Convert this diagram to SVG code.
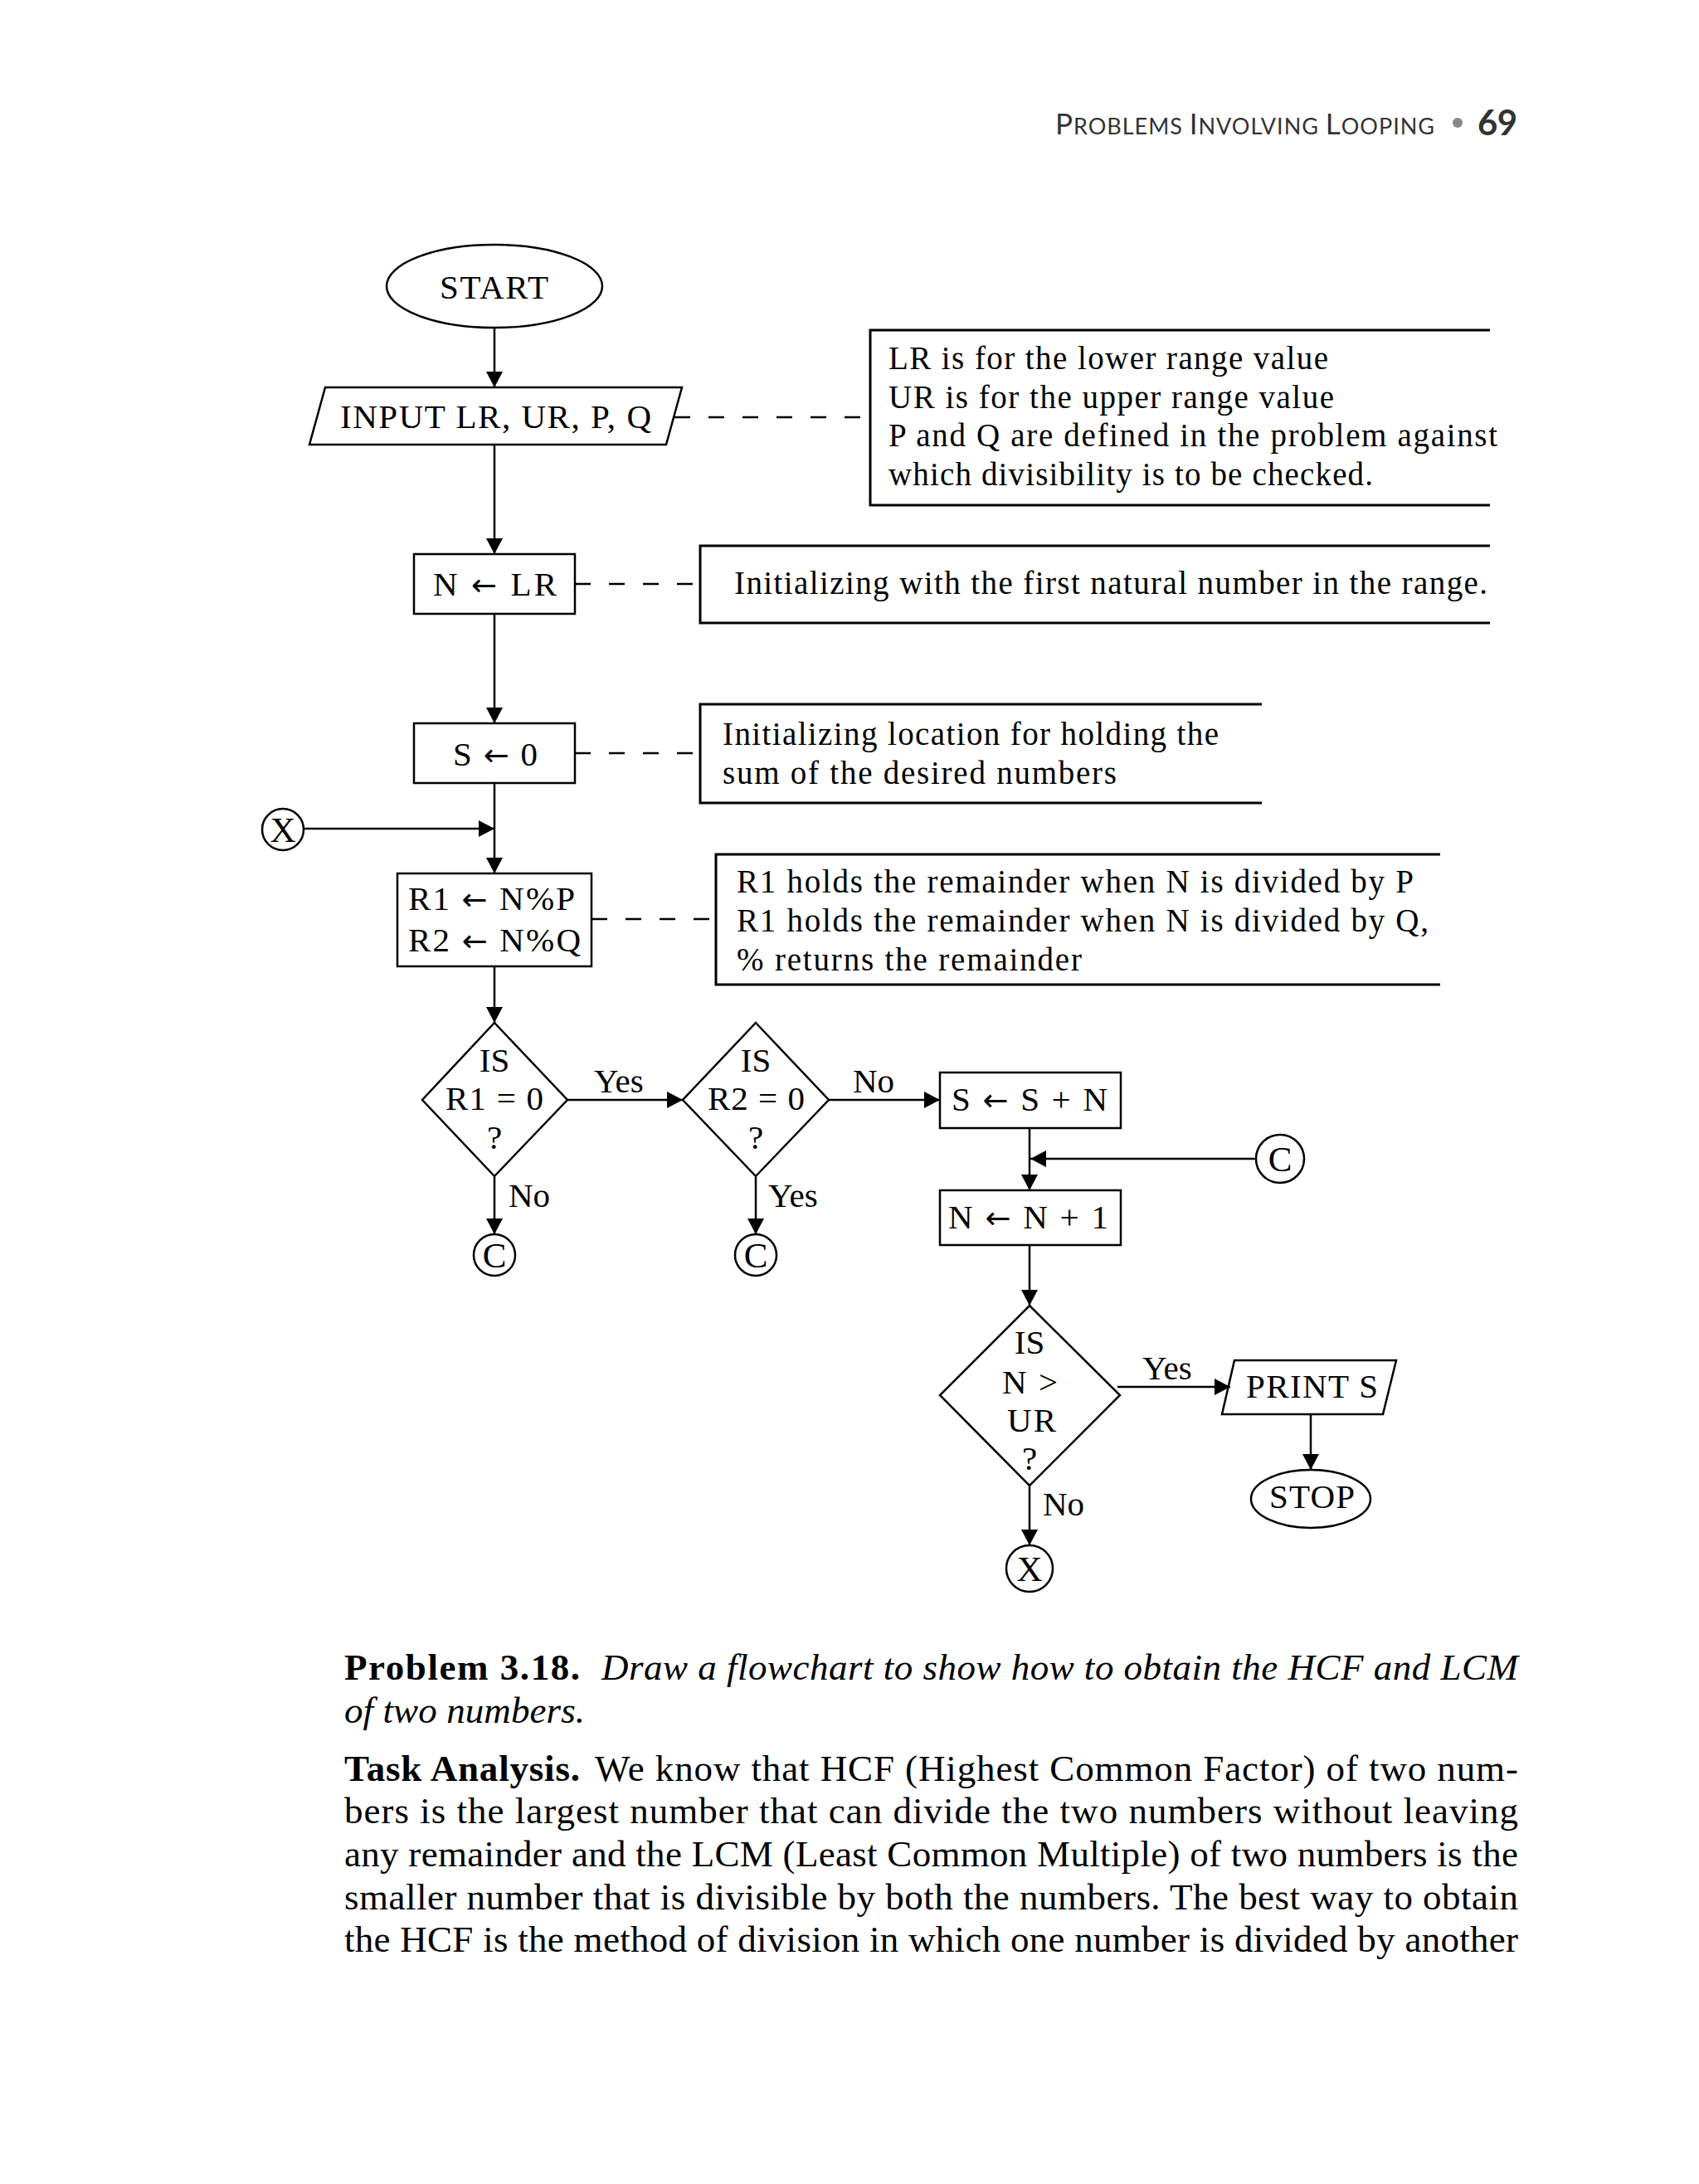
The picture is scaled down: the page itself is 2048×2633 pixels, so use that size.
<svg xmlns="http://www.w3.org/2000/svg" width="2048" height="2633" viewBox="0 0 2048 2633">
<style>
.shape{fill:none;stroke:#000;stroke-width:2.5}
.ln{fill:none;stroke:#000;stroke-width:2.5}
.dash{fill:none;stroke:#000;stroke-width:2.5;stroke-dasharray:19 22}
.box{fill:none;stroke:#000;stroke-width:3}
.t{font-family:"Liberation Serif","Times New Roman",serif;font-size:41px;fill:#000}
.ar{font-family:"DejaVu Sans",sans-serif;font-size:37px}
.cc{font-family:"Liberation Serif","Times New Roman",serif;font-size:43px;fill:#000;text-anchor:middle}
.ann{font-family:"Liberation Serif","Times New Roman",serif;font-size:39px;fill:#000}
.body{font-family:"Liberation Serif","Times New Roman",serif;font-size:45px;fill:#000}
.b{font-weight:bold}
.i{font-style:italic}
.hdr{font-family:Lato,"Open Sans",sans-serif;fill:#333}
</style>
<defs>
<marker id="ah" markerUnits="userSpaceOnUse" markerWidth="20" markerHeight="20" refX="19" refY="10" orient="auto">
<path d="M0,0 L19,10 L0,20 z" fill="#000"/>
</marker>
</defs>
<rect width="2048" height="2633" fill="#fff"/>

<g id="header">
<text class="hdr" x="1272" y="162" textLength="457"><tspan font-size="35">P</tspan><tspan font-size="27">ROBLEMS </tspan><tspan font-size="35">I</tspan><tspan font-size="27">NVOLVING </tspan><tspan font-size="35">L</tspan><tspan font-size="27">OOPING</tspan></text>
<circle cx="1757" cy="148" r="6" fill="#888"/>
<text class="hdr" x="1781" y="163" font-size="42" font-weight="bold" fill="#000" textLength="48">69</text>
</g>

<g id="connectors">
<line class="ln" x1="596" y1="395" x2="596" y2="467" marker-end="url(#ah)"/>
<line class="ln" x1="596" y1="536" x2="596" y2="668" marker-end="url(#ah)"/>
<line class="ln" x1="596" y1="740" x2="596" y2="872" marker-end="url(#ah)"/>
<line class="ln" x1="596" y1="944" x2="596" y2="1053" marker-end="url(#ah)"/>
<line class="ln" x1="366" y1="999" x2="596" y2="999" marker-end="url(#ah)"/>
<line class="ln" x1="596" y1="1165" x2="596" y2="1233" marker-end="url(#ah)"/>
<line class="ln" x1="684" y1="1326" x2="823" y2="1326" marker-end="url(#ah)"/>
<line class="ln" x1="999" y1="1326" x2="1133" y2="1326" marker-end="url(#ah)"/>
<line class="ln" x1="596" y1="1418" x2="596" y2="1488" marker-end="url(#ah)"/>
<line class="ln" x1="911" y1="1418" x2="911" y2="1488" marker-end="url(#ah)"/>
<line class="ln" x1="1241" y1="1360" x2="1241" y2="1435" marker-end="url(#ah)"/>
<line class="ln" x1="1514" y1="1397" x2="1242" y2="1397" marker-end="url(#ah)"/>
<line class="ln" x1="1241" y1="1501" x2="1241" y2="1574" marker-end="url(#ah)"/>
<line class="ln" x1="1347" y1="1672" x2="1483" y2="1672" marker-end="url(#ah)"/>
<line class="ln" x1="1580" y1="1705" x2="1580" y2="1772" marker-end="url(#ah)"/>
<line class="ln" x1="1241" y1="1791" x2="1241" y2="1863" marker-end="url(#ah)"/>
<line class="dash" x1="813" y1="503" x2="1049" y2="503"/>
<line class="dash" x1="693" y1="704" x2="844" y2="704"/>
<line class="dash" x1="693" y1="908" x2="844" y2="908"/>
<line class="dash" x1="713" y1="1108" x2="863" y2="1108"/>
<text class="t" x="716" y="1317">Yes</text>
<text class="t" x="1028" y="1317">No</text>
<text class="t" x="613" y="1455">No</text>
<text class="t" x="926" y="1455">Yes</text>
<text class="t" x="1377" y="1663">Yes</text>
<text class="t" x="1257" y="1827">No</text>
</g>

<g id="start">
<ellipse class="shape" cx="596" cy="345" rx="130" ry="50"/>
<text class="t" x="530" y="360" textLength="131">START</text>
</g>

<g id="input">
<polygon class="shape" points="392,467 822,467 803,536 373,536"/>
<text class="t" x="410" y="516" textLength="375">INPUT LR, UR, P, Q</text>
</g>

<g id="note1">
<path class="box" d="M1796,398 H1049 V609 H1796"/>
<text class="ann" x="1071" y="445" textLength="530">LR is for the lower range value</text>
<text class="ann" x="1071" y="492" textLength="537">UR is for the upper range value</text>
<text class="ann" x="1071" y="538" textLength="734">P and Q are defined in the problem against</text>
<text class="ann" x="1071" y="585" textLength="584">which divisibility is to be checked.</text>
</g>

<g id="init-n">
<rect class="shape" x="499" y="668" width="194" height="72"/>
<text class="t" x="522" y="718" textLength="149">N <tspan class="ar">←</tspan> LR</text>
</g>

<g id="note2">
<path class="box" d="M1796,658 H844 V751 H1796"/>
<text class="ann" x="885" y="716" textLength="908">Initializing with the first natural number in the range.</text>
</g>

<g id="init-s">
<rect class="shape" x="499" y="872" width="194" height="72"/>
<text class="t" x="546" y="923" textLength="102">S <tspan class="ar">←</tspan> 0</text>
</g>

<g id="note3">
<path class="box" d="M1521,849 H844 V968 H1521"/>
<text class="ann" x="871" y="898" textLength="598">Initializing location for holding the</text>
<text class="ann" x="871" y="945" textLength="475">sum of the desired numbers</text>
</g>

<g id="conn-x-left">
<circle class="shape" cx="341" cy="1000" r="25"/>
<text class="cc" x="341" y="1015">X</text>
</g>

<g id="remainders">
<rect class="shape" x="479" y="1053" width="234" height="112"/>
<text class="t" x="492" y="1097" textLength="201">R1 <tspan class="ar">←</tspan> N%P</text>
<text class="t" x="492" y="1147" textLength="208">R2 <tspan class="ar">←</tspan> N%Q</text>
</g>

<g id="note4">
<path class="box" d="M1736,1030 H863 V1187 H1736"/>
<text class="ann" x="888" y="1076" textLength="816">R1 holds the remainder when N is divided by P</text>
<text class="ann" x="888" y="1123" textLength="834">R1 holds the remainder when N is divided by Q,</text>
<text class="ann" x="888" y="1170" textLength="416">% returns the remainder</text>
</g>

<g id="dec-r1">
<polygon class="shape" points="596,1233 684,1326 596,1418 509,1326"/>
<text class="cc" x="596" y="1292" style="font-size:41px">IS</text>
<text class="t" x="537" y="1338" textLength="118">R1 = 0</text>
<text class="cc" x="596" y="1385" style="font-size:41px">?</text>
</g>

<g id="dec-r2">
<polygon class="shape" points="911,1233 999,1326 911,1418 823,1326"/>
<text class="cc" x="911" y="1292" style="font-size:41px">IS</text>
<text class="t" x="853" y="1338" textLength="117">R2 = 0</text>
<text class="cc" x="911" y="1385" style="font-size:41px">?</text>
</g>

<g id="conn-c1">
<circle class="shape" cx="596" cy="1513" r="25"/>
<text class="cc" x="596" y="1528">C</text>
</g>

<g id="conn-c2">
<circle class="shape" cx="911" cy="1513" r="25"/>
<text class="cc" x="911" y="1528">C</text>
</g>

<g id="sum">
<rect class="shape" x="1133" y="1293" width="218" height="67"/>
<text class="t" x="1147" y="1339" textLength="188">S <tspan class="ar">←</tspan> S + N</text>
</g>

<g id="conn-c-right">
<circle class="shape" cx="1543" cy="1397" r="29"/>
<text class="cc" x="1543" y="1412">C</text>
</g>

<g id="incr">
<rect class="shape" x="1133" y="1435" width="218" height="66"/>
<text class="t" x="1143" y="1481" textLength="193">N <tspan class="ar">←</tspan> N + 1</text>
</g>

<g id="dec-n">
<polygon class="shape" points="1241,1574 1350,1682 1241,1791 1133,1682"/>
<text class="cc" x="1241" y="1632" style="font-size:41px">IS</text>
<text class="t" x="1208" y="1680" textLength="67">N &gt;</text>
<text class="t" x="1214" y="1726" textLength="59">UR</text>
<text class="cc" x="1241" y="1772" style="font-size:41px">?</text>
</g>

<g id="print">
<polygon class="shape" points="1488,1640 1683,1640 1667,1705 1473,1705"/>
<text class="t" x="1502" y="1685" textLength="159">PRINT S</text>
</g>

<g id="stop">
<ellipse class="shape" cx="1580" cy="1807" rx="72" ry="35"/>
<text class="t" x="1530" y="1818" textLength="103">STOP</text>
</g>

<g id="conn-x-bottom">
<circle class="shape" cx="1241" cy="1891" r="28"/>
<text class="cc" x="1241" y="1906">X</text>
</g>

<g id="text-below">
<text class="body b" x="415" y="2025" textLength="284">Problem 3.18.</text>
<text class="body i" x="725" y="2025" textLength="1105">Draw a flowchart to show how to obtain the HCF and LCM</text>
<text class="body i" x="415" y="2077" textLength="290">of two numbers.</text>
<text class="body b" x="415" y="2147" textLength="284">Task Analysis.</text>
<text class="body" x="717" y="2147" textLength="1113">We know that HCF (Highest Common Factor) of two num-</text>
<text class="body" x="415" y="2198" textLength="1415">bers is the largest number that can divide the two numbers without leaving</text>
<text class="body" x="415" y="2250" textLength="1415">any remainder and the LCM (Least Common Multiple) of two numbers is the</text>
<text class="body" x="415" y="2302" textLength="1415">smaller number that is divisible by both the numbers. The best way to obtain</text>
<text class="body" x="415" y="2353" textLength="1415">the HCF is the method of division in which one number is divided by another</text>
</g>
</svg>
